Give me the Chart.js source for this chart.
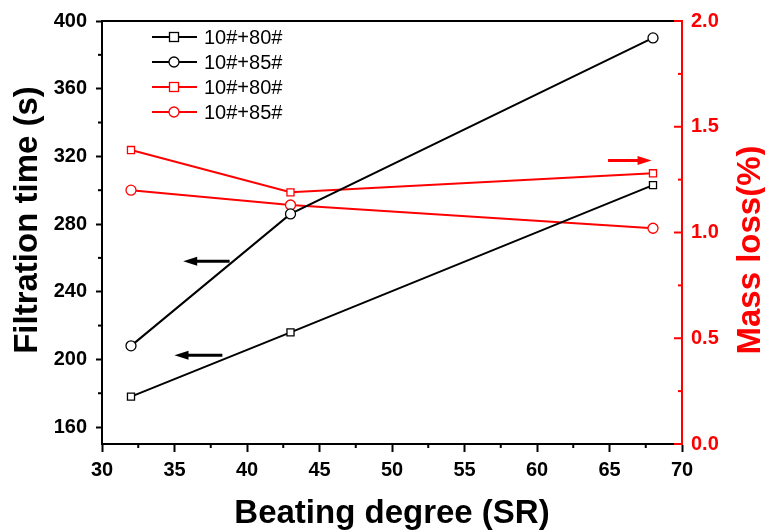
<!DOCTYPE html>
<html>
<head>
<meta charset="utf-8">
<script src="https://cdn.jsdelivr.net/npm/chart.js@4/dist/chart.umd.min.js"></script>
<style>
  html, body { margin: 0; padding: 0; background: #fff; }
  #wrap { width: 765px; height: 532px; }
</style>
</head>
<body>
<div id="wrap"><canvas id="chart" width="765" height="532"></canvas></div>
<script>
// beating degree (SR)
const beating = [32, 43, 68];
// filtration time (s)
const time80 = [178, 216, 303];
const time85 = [208, 286, 390];
// mass loss (%)
const loss80 = [1.39, 1.19, 1.28];
const loss85 = [1.20, 1.13, 1.02];
const seriesNames = ['10#+80#', '10#+85#', '10#+80#', '10#+85#'];
const leftTicks = [160, 200, 240, 280, 320, 360, 400];

// arrows: [x1, y1, x2, y2, axis, colour]  (head at x2,y2)
const arrows = [
  [38.8, 258, 35.6, 258, 'y', '#000'],
  [38.3, 202.5, 35.0, 202.5, 'y', '#000'],
  [64.9, 1.34, 67.9, 1.34, 'y2', '#ff0000']
];

const fam = 'Liberation Sans, Arial, sans-serif';

function pts(ys) {
  return beating.map((x, i) => ({ x: x, y: ys[i] }));
}

function line(ctx, x1, y1, x2, y2) {
  ctx.beginPath(); ctx.moveTo(x1, y1); ctx.lineTo(x2, y2); ctx.stroke();
}

const extras = {
  id: 'extras',
  afterDatasetsDraw(chart) {
    const ctx = chart.ctx;
    const a = chart.chartArea;
    const xs = chart.scales.x, ys = chart.scales.y, y2 = chart.scales.y2;
    ctx.save();
    ctx.lineWidth = 2;
    ctx.strokeStyle = '#000';
    // top frame
    line(ctx, a.left, a.top, a.right - 8, a.top);
    // x minor ticks
    for (let v = 32.5; v < 70; v += 5) {
      const p = xs.getPixelForValue(v);
      line(ctx, p, a.bottom, p, a.bottom + 4);
    }
    // left minor ticks
    for (let v = 180; v < 400; v += 40) {
      const p = ys.getPixelForValue(v);
      line(ctx, a.left, p, a.left - 4, p);
    }
    // right ticks (inward)
    ctx.strokeStyle = '#ff0000';
    for (let v = 0; v <= 2.001; v += 0.25) {
      const p = y2.getPixelForValue(v);
      const major = Math.abs(v * 2 - Math.round(v * 2)) < 0.01;
      line(ctx, a.right, p, a.right - (major ? 8 : 4), p);
    }
    // arrows
    arrows.forEach(ar => {
      const sc = chart.scales[ar[4]];
      const x1 = xs.getPixelForValue(ar[0]), py1 = sc.getPixelForValue(ar[1]);
      const x2 = xs.getPixelForValue(ar[2]), py2 = sc.getPixelForValue(ar[3]);
      const dir = Math.sign(x2 - x1);
      ctx.strokeStyle = ar[5];
      ctx.fillStyle = ar[5];
      ctx.lineWidth = 3;
      line(ctx, x1, py1, x2 - dir * 8, py2);
      ctx.beginPath();
      ctx.moveTo(x2, py2);
      ctx.lineTo(x2 - dir * 14, py2 - 4.5);
      ctx.lineTo(x2 - dir * 14, py2 + 4.5);
      ctx.closePath();
      ctx.fill();
    });
    // legend
    ctx.font = '20px ' + fam;
    ctx.textBaseline = 'middle';
    chart.data.datasets.forEach((ds, i) => {
      const ly = 37 + i * 25;
      ctx.strokeStyle = ds.borderColor;
      ctx.lineWidth = 2;
      line(ctx, 152, ly, 197, ly);
      ctx.fillStyle = '#fff';
      ctx.lineWidth = 1.3;
      if (ds.pointStyle === 'rect') {
        ctx.fillRect(169.5, ly - 4.5, 9, 9);
        ctx.strokeRect(169.5, ly - 4.5, 9, 9);
      } else {
        ctx.beginPath(); ctx.arc(174, ly, 5, 0, Math.PI * 2); ctx.fill(); ctx.stroke();
      }
      ctx.fillStyle = '#000';
      ctx.fillText(ds.label, 204, ly + 1);
    });
    // axis titles
    ctx.font = 'bold 33px ' + fam;
    ctx.textAlign = 'center';
    ctx.textBaseline = 'alphabetic';
    ctx.fillStyle = '#000';
    ctx.fillText('Beating degree (SR)', (a.left + a.right) / 2, 523);
    ctx.save();
    ctx.translate(37, 220);
    ctx.rotate(-Math.PI / 2);
    ctx.fillText('Filtration time (s)', 0, 0);
    ctx.restore();
    ctx.save();
    ctx.fillStyle = '#ff0000';
    ctx.translate(760, 250);
    ctx.rotate(-Math.PI / 2);
    ctx.fillText('Mass loss(%)', 0, 0);
    ctx.restore();
    ctx.restore();
  }
};

function ds(label, data, color, style, axis) {
  return {
    label: label,
    data: pts(data),
    yAxisID: axis,
    borderColor: color,
    backgroundColor: '#fff',
    borderWidth: 2,
    pointStyle: style,
    pointRadius: 5,
    pointBorderWidth: 1.3,
    pointBackgroundColor: '#fff',
    pointBorderColor: color,
    tension: 0
  };
}

const tickFont = { family: fam, size: 20, weight: 'bold' };

new Chart(document.getElementById('chart'), {
  type: 'line',
  data: {
    datasets: [
      ds(seriesNames[0], time80, '#000', 'rect', 'y'),
      ds(seriesNames[1], time85, '#000', 'circle', 'y'),
      ds(seriesNames[2], loss80, '#ff0000', 'rect', 'y2'),
      ds(seriesNames[3], loss85, '#ff0000', 'circle', 'y2')
    ]
  },
  options: {
    responsive: false,
    animation: false,
    layout: { padding: { top: 20, left: 0, right: 0, bottom: 0 } },
    plugins: { legend: { display: false }, tooltip: { enabled: false } },
    scales: {
      x: {
        type: 'linear', min: 30, max: 70,
        ticks: { stepSize: 5, color: '#000', font: tickFont, padding: 6, maxRotation: 0 },
        grid: { drawOnChartArea: false, tickLength: 8, tickWidth: 2, tickColor: '#000' },
        border: { color: '#000', width: 2 },
        afterFit: s => { s.height = 88; }
      },
      y: {
        type: 'linear', position: 'left', min: 150, max: 400,
        afterBuildTicks: s => { s.ticks = leftTicks.map(v => ({ value: v })); },
        ticks: { color: '#000', font: tickFont, padding: 9 },
        grid: { drawOnChartArea: false, tickLength: 6, tickWidth: 2, tickColor: '#000' },
        border: { color: '#000', width: 2 },
        afterFit: s => { s.width = 102; }
      },
      y2: {
        type: 'linear', position: 'right', min: 0, max: 2,
        ticks: { stepSize: 0.5, color: '#ff0000', font: tickFont, padding: 9, callback: v => v.toFixed(1) },
        grid: { drawOnChartArea: false, drawTicks: false },
        border: { color: '#ff0000', width: 2 },
        afterFit: s => { s.width = 83; }
      }
    }
  },
  plugins: [extras]
});
</script>
</body>
</html>
